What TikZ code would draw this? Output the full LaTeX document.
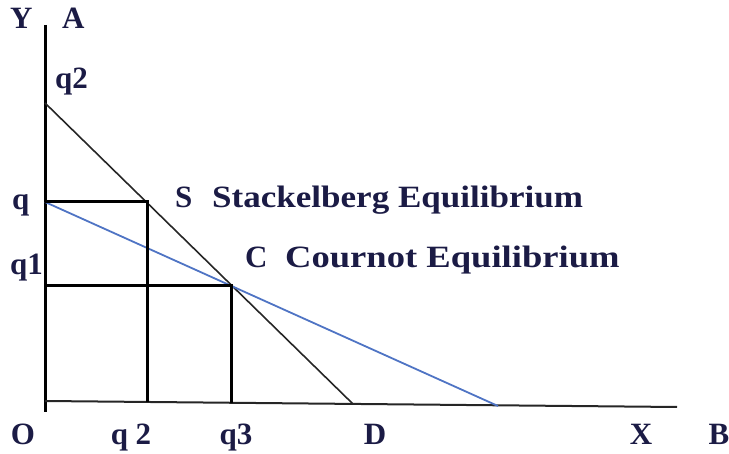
\documentclass[tikz,border=0pt]{standalone}
\usepackage{fontspec}
\setmainfont{Liberation Serif}
\definecolor{navy}{HTML}{1B1B45}
\definecolor{lineblue}{HTML}{4F74C4}
\newcommand\widetext[2]{\scalebox{#1}[1]{#2}}
\begin{document}
\begin{tikzpicture}[x=1pt,y=-1pt,
  lbl/.style={font=\bfseries\fontsize{31}{34}\selectfont,text=navy,inner sep=0pt,anchor=base west},
  lblc/.style={lbl,anchor=base},
  axis/.style={draw=black,line width=3pt},
  xaxis/.style={draw=black!85,line width=2pt},
  boxline/.style={draw=black,line width=3pt},
  demand/.style={draw=black!85,line width=1.6pt},
  react/.style={draw=lineblue,line width=1.8pt}]
\useasboundingbox (0,0) rectangle (729,454);
% coordinates
\coordinate (ytop) at (45,25);
\coordinate (ybot) at (45,412);
\coordinate (O) at (45,401);
\coordinate (xend) at (677,407);
\coordinate (Aint) at (45,103);
\coordinate (Dpt) at (353,404);
\coordinate (qpt) at (45,202);
\coordinate (Bpt) at (498,406);
\coordinate (S) at (147,202);
\coordinate (C) at (231,286);
\coordinate (q1pt) at (45,286);
\coordinate (Sb) at (147,402);
\coordinate (Cb) at (231,403);
% axes
\draw[axis] (ytop) -- (ybot);
\draw[xaxis] (O) -- (xend);
% lines
\draw[demand] (Aint) -- (Dpt);
\draw[react] (qpt) -- (Bpt);
\draw[boxline] (qpt) -- (S) -- (Sb);
\draw[boxline] (q1pt) -- (C) -- (Cb);
% labels
\node[lbl] (tY) at (10,29) {Y};
\node[lbl] (tA) at (62,29) {A};
\node[lbl] (tq2) at (55,89) {q2};
\node[lbl] (tq) at (12,210) {q};
\node[lbl] (tq1) at (10,275) {q1};
\node[lbl] (tS) at (175,208) {S};
\node[lbl] (tSE) at (212,208) {\widetext{1.13}{Stackelberg Equilibrium}};
\node[lbl] (tC) at (245,268) {C};
\node[lbl] (tCE) at (285,268) {\widetext{1.18}{Cournot Equilibrium}};
\node[lblc] (tO) at (23,445) {O};
\node[lblc] (tqq2) at (131,445) {q 2};
\node[lblc] (tq3) at (236,445) {q3};
\node[lblc] (tD) at (375,445) {D};
\node[lblc] (tX) at (641,445) {X};
\node[lblc] (tB) at (719,445) {B};
\end{tikzpicture}
\end{document}
